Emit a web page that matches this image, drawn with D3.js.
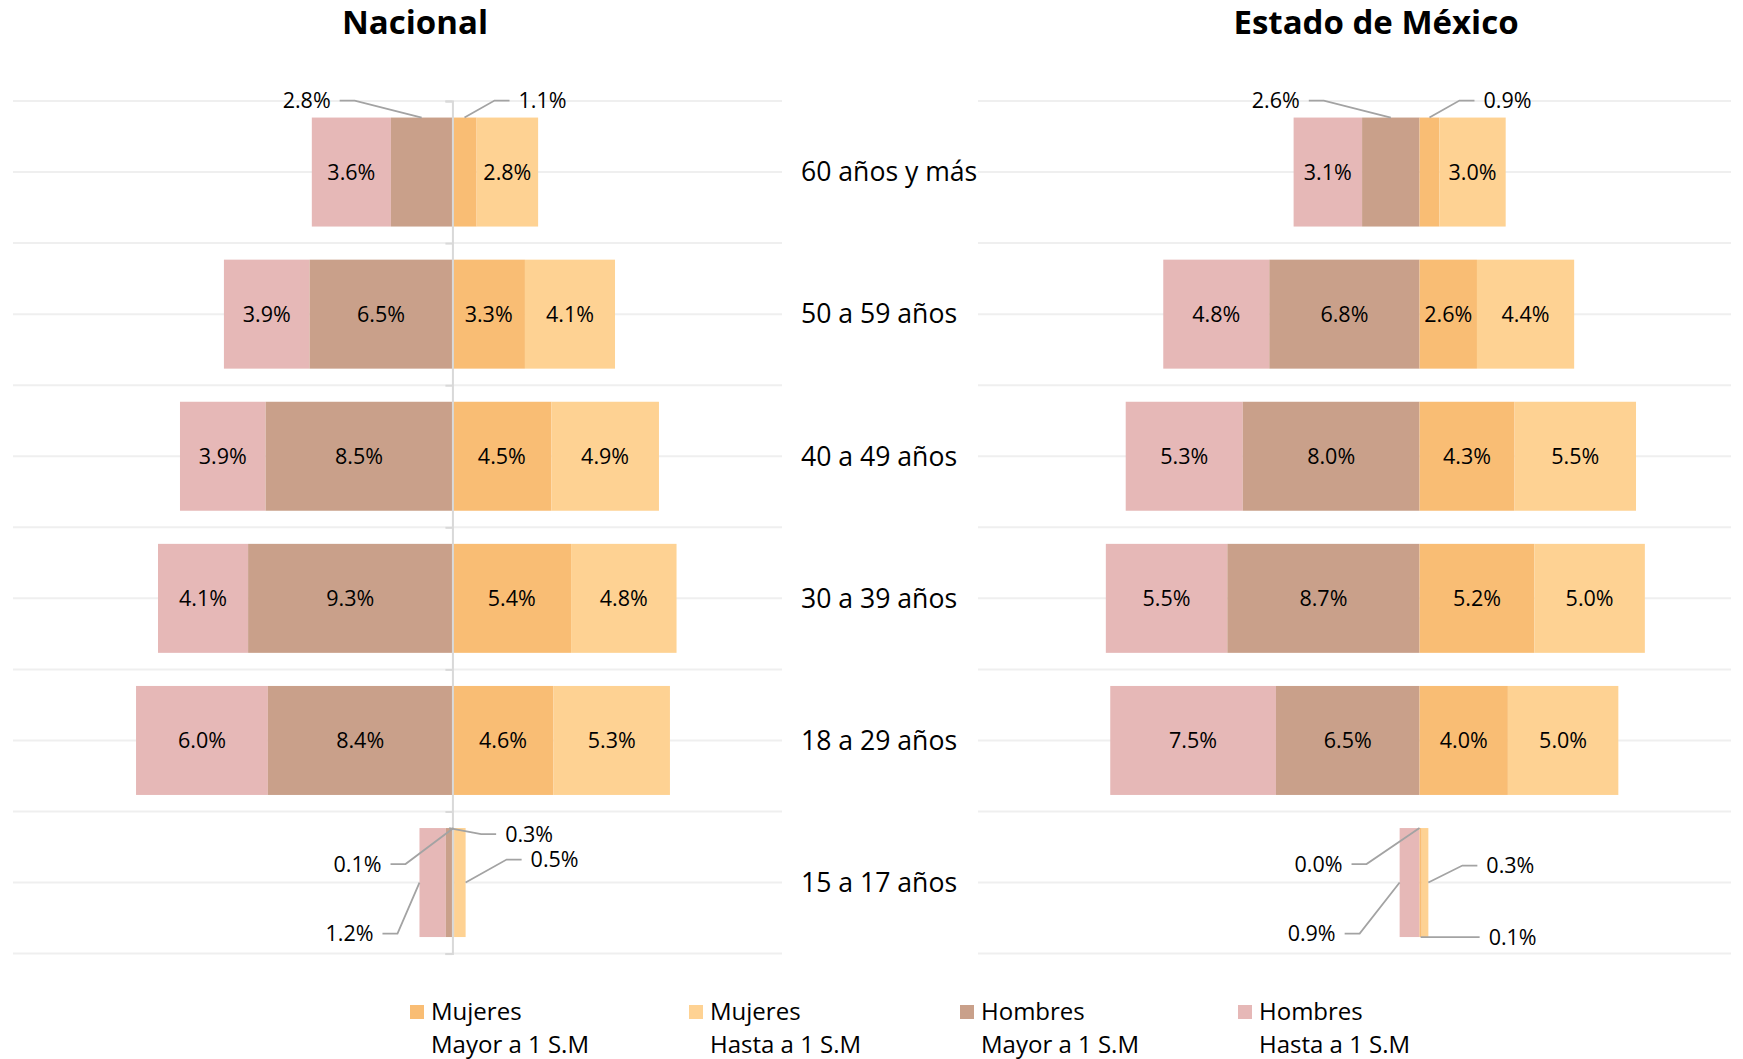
<!DOCTYPE html>
<html lang="es">
<head>
<meta charset="utf-8">
<title>Ocupados por nivel de ingreso</title>
<script src="https://cdn.jsdelivr.net/npm/d3@7/dist/d3.min.js"></script>
<style>
  body { margin: 0; background: #fff; }
  text { font-family: "Open Sans", sans-serif; fill: #000; }
  .grid { stroke: #efefef; stroke-width: 2px; }
  .leader { stroke: #a3a3a3; stroke-width: 1.8px; fill: none; }
</style>
</head>
<body>
<svg id="chart"></svg>
<script>
// categorias (de arriba hacia abajo)
var categories = ["60 años y más", "50 a 59 años", "40 a 49 años", "30 a 39 años", "18 a 29 años", "15 a 17 años"];

// Nacional (%)
var nacHombresHasta = [3.6, 3.9, 3.9, 4.1, 6.0, 1.2];
var nacHombresMayor = [2.8, 6.5, 8.5, 9.3, 8.4, 0.3];
var nacMujeresMayor = [1.1, 3.3, 4.5, 5.4, 4.6, 0.1];
var nacMujeresHasta = [2.8, 4.1, 4.9, 4.8, 5.3, 0.5];

// Estado de Mexico (%)
var edoHombresHasta = [3.1, 4.8, 5.3, 5.5, 7.5, 0.9];
var edoHombresMayor = [2.6, 6.8, 8.0, 8.7, 6.5, 0.0];
var edoMujeresMayor = [0.9, 2.6, 4.3, 5.2, 4.0, 0.1];
var edoMujeresHasta = [3.0, 4.4, 5.5, 5.0, 5.0, 0.3];

var legendNames = [["Mujeres", "Mayor a 1 S.M"], ["Mujeres", "Hasta a 1 S.M"], ["Hombres", "Mayor a 1 S.M"], ["Hombres", "Hasta a 1 S.M"]];

var colors = { mm: "#f9bd74", mh: "#fed293", hm: "#c9a08a", hh: "#e6b8b7" };

var W = 1743, H = 1059;
var svg = d3.select("#chart").attr("width", W).attr("height", H);

var y = d3.scaleBand().domain(categories).range([101, 953.6]);
var barH = y.step() * 0.767;

var panels = [
  { title: "Nacional", titleX: 415, range: [13, 782], grid: [13, 782], domain: [-20, 15], axis: true,
    hh: nacHombresHasta, hm: nacHombresMayor, mm: nacMujeresMayor, mh: nacMujeresHasta,
    // etiquetas con linea guia: serie, categoria, ancla y desplazamiento
    callouts: [
      { key: "hm", cat: 0, at: "top", dx: -91, dy: -17 },
      { key: "mm", cat: 0, at: "top", dx: 54, dy: -17 },
      { key: "hm", cat: 5, at: "top", dx: 56, dy: 6 },
      { key: "mm", cat: 5, at: "top", dx: -72, dy: 36 },
      { key: "mh", cat: 5, at: "right", dx: 65, dy: -23 },
      { key: "hh", cat: 5, at: "left", dx: -46, dy: 51 }
    ] },
  { title: "Estado de México", titleX: 1376, range: [977.7, 1728.8], grid: [978, 1731], domain: [-20, 14], axis: false,
    hh: edoHombresHasta, hm: edoHombresMayor, mm: edoMujeresMayor, mh: edoMujeresHasta,
    callouts: [
      { key: "hm", cat: 0, at: "top", dx: -91, dy: -17 },
      { key: "mm", cat: 0, at: "top", dx: 54, dy: -17 },
      { key: "hm", cat: 5, at: "top", dx: -77, dy: 36 },
      { key: "hh", cat: 5, at: "left", dx: -64, dy: 51 },
      { key: "mm", cat: 5, at: "bottom", dx: 68, dy: 0 },
      { key: "mh", cat: 5, at: "right", dx: 58, dy: -17 }
    ] }
];

panels.forEach(function (p) {
  var x = d3.scaleLinear().domain(p.domain).range(p.range);
  var g = svg.append("g");

  // lineas de fondo: bordes y centros de cada banda
  var gy = [];
  categories.forEach(function (c) { gy.push(y(c)); gy.push(y(c) + y.step() / 2); });
  gy.push(y.range()[1]);
  g.selectAll(".grid").data(gy).enter().append("line")
    .attr("class", "grid")
    .attr("x1", p.grid[0]).attr("x2", p.grid[1])
    .attr("y1", function (d) { return d; }).attr("y2", function (d) { return d; });

  // segmentos apilados
  var segs = [];
  categories.forEach(function (c, i) {
    var hm = p.hm[i], hh = p.hh[i], mm = p.mm[i], mh = p.mh[i];
    segs.push({ key: "hh", cat: i, v: hh, a: -hm - hh, b: -hm });
    segs.push({ key: "hm", cat: i, v: hm, a: -hm, b: 0 });
    segs.push({ key: "mm", cat: i, v: mm, a: 0, b: mm });
    segs.push({ key: "mh", cat: i, v: mh, a: mm, b: mm + mh });
  });

  g.selectAll(".bar").data(segs).enter().append("rect")
    .attr("x", function (d) { return x(d.a); })
    .attr("width", function (d) { return x(d.b) - x(d.a); })
    .attr("y", function (d) { return y(categories[d.cat]) + (y.step() - barH) / 2; })
    .attr("height", barH)
    .attr("fill", function (d) { return colors[d.key]; });

  if (p.axis) {
    var ax = g.append("g").attr("transform", "translate(" + x(0) + ",0)")
      .call(d3.axisLeft(d3.scaleLinear().domain([0, 1]).range([y.range()[0], y.range()[1]]))
        .tickValues(d3.range(0, 1.0001, 1 / 6)).tickSize(7).tickFormat(""));
    ax.select(".domain").attr("stroke", "#d9d9d9").attr("stroke-width", 2);
    ax.selectAll(".tick line").attr("stroke", "#d9d9d9").attr("stroke-width", 2);
  }

  var isCallout = function (d) {
    return p.callouts.some(function (c) { return c.key === d.key && c.cat === d.cat; });
  };

  g.selectAll(".val").data(segs.filter(function (d) { return !isCallout(d); })).enter().append("text")
    .attr("x", function (d) { return (x(d.a) + x(d.b)) / 2; })
    .attr("y", function (d) { return y(categories[d.cat]) + y.step() / 2; })
    .attr("dy", "0.35em")
    .attr("text-anchor", "middle")
    .style("font-size", "21.5px")
    .text(function (d) { return d.v.toFixed(1) + "%"; });

  p.callouts.forEach(function (c) {
    var d = segs.filter(function (s) { return s.key === c.key && s.cat === c.cat; })[0];
    var top = y(categories[d.cat]) + (y.step() - barH) / 2;
    var ax0, ay0;
    if (c.at === "top") { ax0 = (x(d.a) + x(d.b)) / 2; ay0 = top; }
    else if (c.at === "bottom") { ax0 = (x(d.a) + x(d.b)) / 2; ay0 = top + barH; }
    else if (c.at === "left") { ax0 = x(d.a); ay0 = top + barH / 2; }
    else { ax0 = x(d.b); ay0 = top + barH / 2; }
    var lx = ax0 + c.dx, ly = ay0 + c.dy;
    var sgn = c.dx < 0 ? 1 : -1;
    var e1 = lx + sgn * 9, e2 = lx + sgn * 24;
    if (Math.abs(c.dy) < 1) e2 = ax0;
    g.append("path").attr("class", "leader")
      .attr("d", "M" + e1 + "," + ly + "L" + e2 + "," + ly + "L" + ax0 + "," + ay0);
    g.append("text")
      .attr("x", lx).attr("y", ly).attr("dy", "0.35em")
      .attr("text-anchor", c.dx < 0 ? "end" : "start")
      .style("font-size", "21.5px")
      .text(d.v.toFixed(1) + "%");
  });

  svg.append("text")
    .attr("x", p.titleX).attr("y", 22).attr("dy", "0.35em")
    .attr("text-anchor", "middle")
    .style("font-size", "33px").style("font-weight", "bold")
    .text(p.title);
});

// etiquetas de categoria al centro
svg.selectAll(".cat").data(categories).enter().append("text")
  .attr("x", 801)
  .attr("y", function (d) { return y(d) + y.step() / 2; })
  .attr("dy", "0.35em")
  .style("font-size", "26.6px")
  .text(function (d) { return d; });

// leyenda
var legendX = [410, 689, 960, 1238];
var legendKeys = ["mm", "mh", "hm", "hh"];
var lg = svg.selectAll(".lg").data(legendNames).enter().append("g")
  .attr("transform", function (d, i) { return "translate(" + legendX[i] + ",0)"; });
lg.append("rect").attr("x", 0).attr("y", 1005).attr("width", 14).attr("height", 14)
  .attr("fill", function (d, i) { return colors[legendKeys[i]]; });
lg.append("text").attr("x", 21).attr("y", 1012).attr("dy", "0.35em")
  .style("font-size", "24px").text(function (d) { return d[0]; });
lg.append("text").attr("x", 21).attr("y", 1045).attr("dy", "0.35em")
  .style("font-size", "24px").text(function (d) { return d[1]; });
</script>
</body>
</html>
